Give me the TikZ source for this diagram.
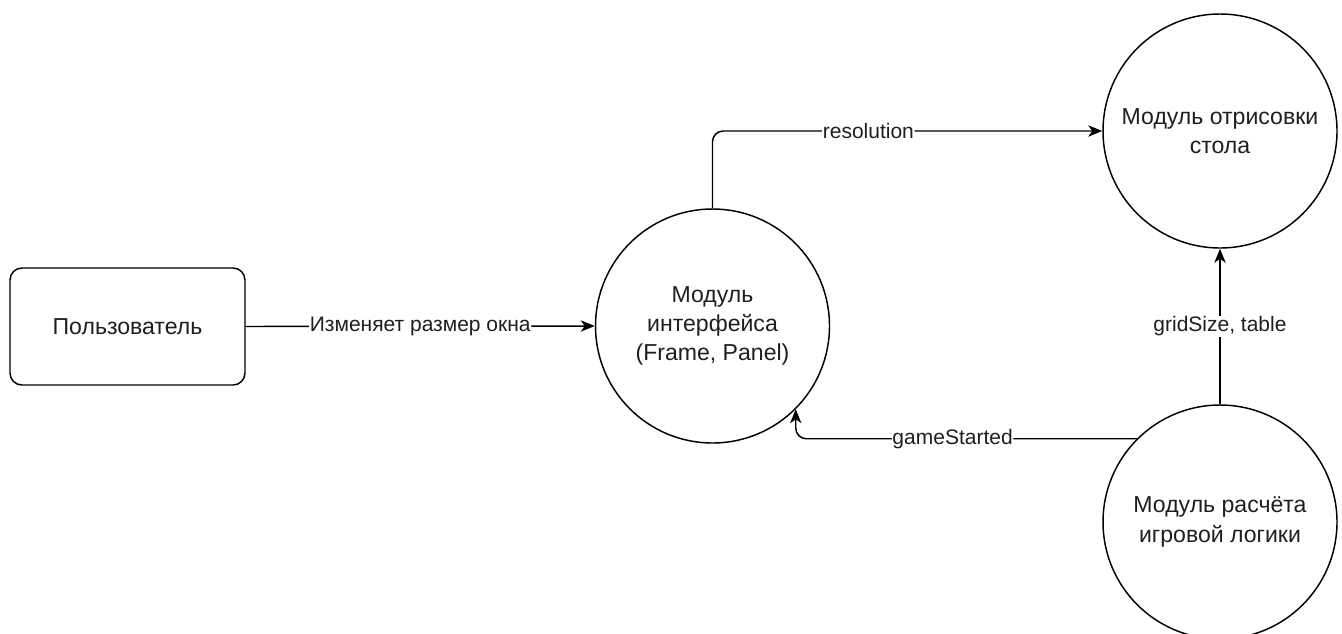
\documentclass[tikz,border=0pt]{standalone}
\usepackage{fontspec}
\setmainfont{Liberation Sans}
\usetikzlibrary{arrows.meta}
\begin{document}
\begin{tikzpicture}[x=0.75pt,y=-0.75pt,
  txt/.style={font=\fontsize{17.3}{22}\selectfont, text=black!88},
  module/.style={txt, circle, draw, line width=1.1pt, minimum size=175.5pt, inner sep=0pt, align=center, fill=white},
  actor/.style={txt, rectangle, rounded corners=9pt, draw, line width=1.1pt, minimum width=176.25pt, minimum height=87.75pt, fill=white},
  flow/.style={line width=1.1pt, -{Stealth[length=10.5pt,width=8.5pt,inset=3pt]}, rounded corners=8pt},
  lab/.style={font=\fontsize{15.75}{19}\selectfont, text=black!88, fill=white, inner sep=0.5pt}
]
\useasboundingbox (0,0) rectangle (1342,633);
\fill[white] (0,0) rectangle (1342,633);

% participants
\node[actor]  (user)  at (127.5,326.5) {Пользователь};
\node[module] (iface) at (712.5,326)   {Модуль\\интерфейса\\(Frame, Panel)};
\node[module] (rend)  at (1220,131)    {Модуль отрисовки\\стола};
\node[module] (logic) at (1220,522)    {Модуль расчёта\\игровой логики};

% data flows
\draw[flow] (user.east) -- (iface.west)
  node[lab, midway] {Изменяет размер окна};
\draw[flow] (iface.north) |- (rend.west)
  node[lab, pos=0.7] {resolution};
\draw[flow] (logic.north) -- (rend.south)
  node[lab, midway] {gridSize, table};
\draw[flow] (logic.135) -| (iface.-45)
  node[lab, pos=0.27] {gameStarted};
\end{tikzpicture}
\end{document}
